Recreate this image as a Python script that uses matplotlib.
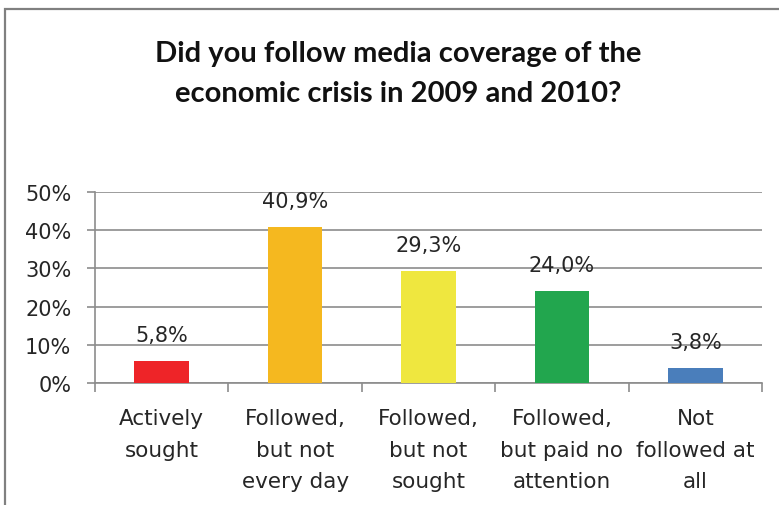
import numpy as np
import matplotlib.pyplot as plt
from matplotlib.patches import Rectangle
from matplotlib.ticker import FixedLocator

categories = ['Actively\nsought', 'Followed,\nbut not\nevery day', 'Followed,\nbut not\nsought',
              'Followed,\nbut paid no\nattention', 'Not\nfollowed at\nall']
values = [5.8, 40.9, 29.3, 24.0, 3.8]
colors = ['#EE2428', '#F5B81F', '#EFE73F', '#22A64E', '#4A7EBB']
yticks = [0, 10, 20, 30, 40, 50]
title = 'Did you follow media coverage of the\neconomic crisis in 2009 and 2010?'

plt.rcParams['font.family'] = ['DejaVu Sans']

fig = plt.figure(figsize=(7.79, 5.06), dpi=100)
ax = fig.add_axes([95 / 779, 1 - 384 / 506, 667 / 779, 191 / 506])

# outer chart frame (cut off on the right and bottom)
fig.patches.append(Rectangle((5 / 779, -0.1), 2, 1 - 10 / 506 + 0.1, transform=fig.transFigure,
                             fill=False, edgecolor='#808080', linewidth=1.6))

x = np.arange(len(values))
ax.bar(x, values, width=0.41, color=colors, zorder=3)
for xi, v in zip(x, values):
    ax.text(xi, v + 4.2, f'{v:.1f}'.replace('.', ',') + '%', ha='center', va='bottom',
            fontsize=15, color='#262626', zorder=4)

ax.set_xlim(-0.5, len(values) - 0.5)
ax.set_ylim(0, 50)
ax.set_yticks(yticks)
ax.set_yticklabels([f'{t}%' for t in yticks])
ax.yaxis.grid(True, color='#8c8c8c', linewidth=1.2, zorder=0)
ax.set_xticks(x)
ax.set_xticklabels(categories, linespacing=1.72)
ax.xaxis.set_minor_locator(FixedLocator(np.arange(-0.5, len(values), 1)))
ax.tick_params(axis='x', which='major', length=0, pad=18, labelsize=15.5, labelcolor='#262626')
ax.tick_params(axis='x', which='minor', length=6.5, width=1.2, color='#8c8c8c')
ax.tick_params(axis='y', length=6, width=1.2, color='#8c8c8c', pad=11, labelsize=15, labelcolor='#262626')

for s in ['top', 'right']:
    ax.spines[s].set_visible(False)
ax.spines['left'].set_color('#8c8c8c')
ax.spines['bottom'].set_color('#8c8c8c')
ax.spines['left'].set_linewidth(1.2)
ax.spines['bottom'].set_linewidth(1.2)

fig.text(398 / 779, 1 - 74 / 506, title, ha='center', va='center', fontsize=21,
         fontweight='bold', family='Lato', linespacing=1.7, color='#111111')

fig.savefig('out.png', dpi=100)
